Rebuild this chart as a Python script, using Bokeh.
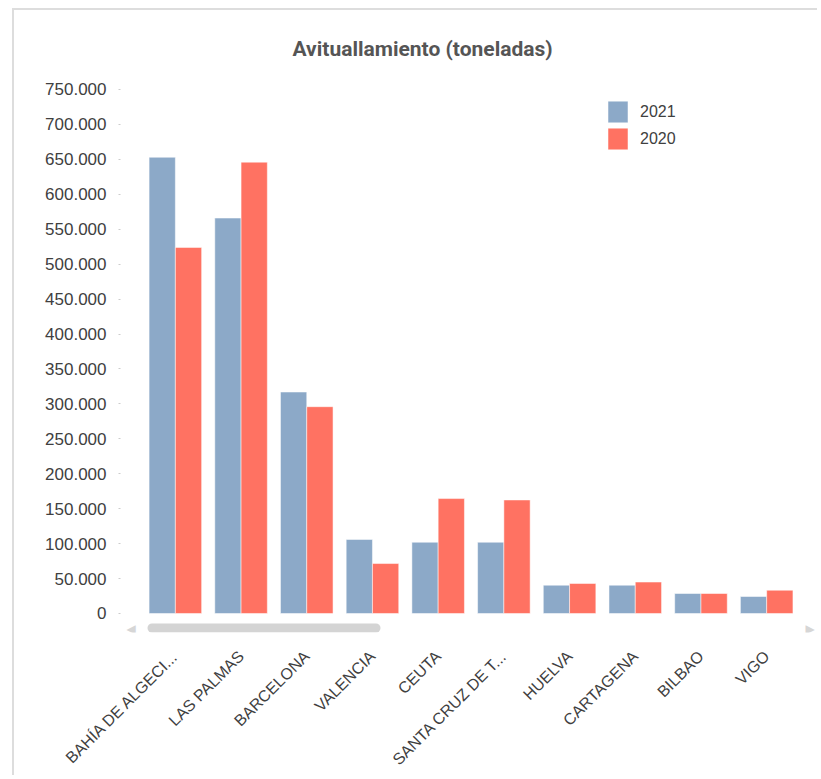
from bokeh.plotting import figure
from bokeh.models import (Range1d, FixedTicker, Legend, LegendItem, BoxAnnotation,
                          Label, ColumnDataSource)
from bokeh.transform import dodge
from bokeh.embed import file_html
from bokeh.resources import INLINE

# ---- data -------------------------------------------------------------
ports = ["BAHÍA DE ALGECI...", "LAS PALMAS", "BARCELONA", "VALENCIA", "CEUTA",
         "SANTA CRUZ DE T...", "HUELVA", "CARTAGENA", "BILBAO", "VIGO"]
v2021 = [653000, 566000, 317000, 106000, 102000, 102000, 40500, 40500, 28600, 24300]
v2020 = [524000, 646000, 296000, 71500, 164500, 162500, 43000, 45000, 28600, 33300]
series_names = ["2021", "2020"]
y_ticks = [0, 50000, 100000, 150000, 200000, 250000, 300000, 350000, 400000,
           450000, 500000, 550000, 600000, 650000, 700000, 750000]
y_tick_labels = ["0", "50.000", "100.000", "150.000", "200.000", "250.000",
                 "300.000", "350.000", "400.000", "450.000", "500.000",
                 "550.000", "600.000", "650.000", "700.000", "750.000"]
title_text = "Avituallamiento (toneladas)"

# ---- styles -----------------------------------------------------------
C2021 = "#8CA9C8"
C2020 = "#FF7262"
FONT = "Liberation Sans"
TXT = "#404040"

idx = list(range(len(ports)))
src = ColumnDataSource(dict(x=idx, v2021=v2021, v2020=v2020))

p = figure(width=805, height=767, output_backend="svg", toolbar_location=None,
           x_range=Range1d(-0.835, 9.804), y_range=Range1d(-27200, 764300),
           min_border_left=106, min_border_right=0, min_border_top=69,
           min_border_bottom=145, background_fill_color="white",
           border_fill_color="white", outline_line_color=None)

r1 = p.vbar(x=dodge("x", -0.2, range=p.x_range), top="v2021", width=0.4, source=src,
            fill_color=C2021, line_color="white", line_alpha=0.5, line_width=1)
r2 = p.vbar(x=dodge("x", 0.2, range=p.x_range), top="v2020", width=0.4, source=src,
            fill_color=C2020, line_color="white", line_alpha=0.5, line_width=1)

p.title.text = title_text
p.title.text_font = "Roboto"
p.title.text_font_size = "21px"
p.title.text_font_style = "bold"
p.title.text_color = "#555555"
p.title.align = "left"
p.title.offset = 172
p.title.standoff = 38

# y axis
p.yaxis.ticker = FixedTicker(ticks=y_ticks)
p.yaxis.major_label_overrides = {t: l for t, l in zip(y_ticks, y_tick_labels)}
p.yaxis.axis_line_color = None
p.yaxis.major_tick_line_color = "#cccccc"
p.yaxis.major_tick_out = 2
p.yaxis.major_tick_in = 0
p.yaxis.minor_tick_line_color = None
p.yaxis.major_label_standoff = 12
p.yaxis.major_label_text_font = FONT
p.yaxis.major_label_text_font_size = "17px"
p.yaxis.major_label_text_color = TXT

# x axis
p.xaxis.ticker = FixedTicker(ticks=idx)
p.xaxis.major_label_overrides = {i: n for i, n in zip(idx, ports)}
p.xaxis.axis_line_color = None
p.xaxis.major_tick_line_color = None
p.xaxis.minor_tick_line_color = None
p.xaxis.major_label_orientation = 0.785398
p.xaxis.major_label_standoff = 15
p.xaxis.major_label_text_font = FONT
p.xaxis.major_label_text_font_size = "16px"
p.xaxis.major_label_text_color = TXT

p.grid.visible = False

# scrollbar decoration (inside the frame, below the zero line)
sb = BoxAnnotation(left=131, right=364, top=611, bottom=620,
                   left_units="canvas", right_units="canvas",
                   top_units="canvas", bottom_units="canvas",
                   fill_color="#d4d4d4", fill_alpha=1, line_color=None,
                   border_radius=5)
p.add_layout(sb)
for xx, ch in [(110, "◀"), (789, "▶")]:
    p.add_layout(Label(x=xx, y=616, x_units="canvas", y_units="canvas", text=ch,
                       text_font="DejaVu Sans", text_font_size="12px",
                       text_color="#d6d6d6", text_baseline="middle"))

legend = Legend(items=[LegendItem(label=series_names[0], renderers=[r1]),
                       LegendItem(label=series_names[1], renderers=[r2])],
                location=(485, 480), orientation="vertical",
                glyph_width=25, glyph_height=27, spacing=-5, padding=0, margin=0,
                label_standoff=10, label_text_font=FONT,
                label_text_font_size="16px", label_text_color=TXT,
                border_line_color=None, background_fill_alpha=0)
p.add_layout(legend, "center")

p.styles = {"margin-left": "12px", "margin-top": "8px",
            "border-top": "2px solid #dddddd", "border-left": "2px solid #dddddd"}

open("out.html", "w").write(file_html(p, INLINE))
